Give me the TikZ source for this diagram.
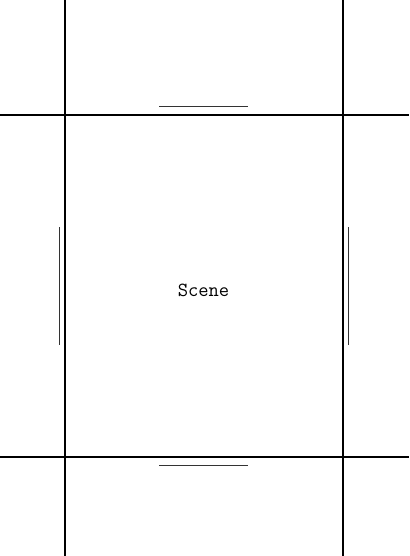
\documentclass[tikz,border=0pt]{standalone}
\begin{document}
\begin{tikzpicture}[x=1pt,y=-1pt,
  frame/.style={line width=1.8pt,black},
  guide/.style={line width=1pt,black!80}]
\useasboundingbox[fill=white] (0,0) rectangle (409,556);
\coordinate (vl1) at (65,0); \coordinate (vl2) at (65,556);
\coordinate (vr1) at (343,0); \coordinate (vr2) at (343,556);
\coordinate (ht1) at (0,115); \coordinate (ht2) at (409,115);
\coordinate (hb1) at (0,457); \coordinate (hb2) at (409,457);
\draw[frame] (vl1) -- (vl2);
\draw[frame] (vr1) -- (vr2);
\draw[frame] (ht1) -- (ht2);
\draw[frame] (hb1) -- (hb2);
\coordinate (st1) at (159,107); \coordinate (st2) at (248,107);
\coordinate (sb1) at (159,465); \coordinate (sb2) at (248,465);
\coordinate (sl1) at (59,227); \coordinate (sl2) at (59,345);
\coordinate (sr1) at (348,227); \coordinate (sr2) at (348,345);
\draw[guide] (st1) -- (st2);
\draw[guide] (sb1) -- (sb2);
\draw[guide] (sl1) -- (sl2);
\draw[guide] (sr1) -- (sr2);
\node[font=\ttfamily\fontsize{20}{24}\selectfont] (scene) at (203.5,290) {Scene};
\end{tikzpicture}
\end{document}
